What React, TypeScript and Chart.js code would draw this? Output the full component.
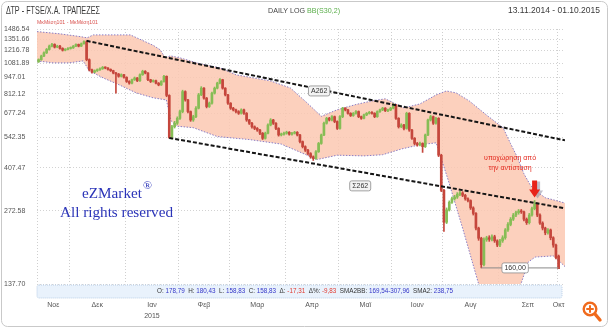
import React, { useEffect, useRef } from "react";
import { Chart, registerables } from "chart.js";

Chart.register(...registerables);

// ---------- data ----------
const monthLabels: (string | string[])[] = ["Νοε", "Δεκ", ["Ιαν", "2015"], "Φεβ", "Μαρ", "Απρ", "Μαϊ", "Ιουν", "Αυγ", "Σεπ", "Οκτ"];
const monthTradingDays = [12, 21, 20, 19, 21, 20, 20, 19, 21, 22, 1];

const yTickValues = [137.7, 272.58, 407.47, 542.35, 677.24, 812.12, 947.01, 1081.89, 1216.78, 1351.66, 1486.54];

const firstOpen = 1095;
const lastOpen = 178.79;

const closes = [
  // Nov
  1117, 1155, 1190, 1228, 1267, 1287, 1255, 1267, 1240, 1220, 1228, 1240,
  // Dec
  1247, 1267, 1287, 1267, 1295, 1320, 1117, 1016, 994, 1008, 1016, 1026, 1040, 1033, 1020, 1008, 986, 976, 956, 970, 947,
  // Jan
  911, 897, 926, 941, 917, 970, 1002, 986, 926, 911, 917, 897, 882, 911, 956, 800, 540, 597, 617, 646,
  // Feb
  688, 829, 767, 688, 636, 656, 710, 804, 856, 780, 721, 744, 817, 856, 897, 926, 856, 804, 744,
  // Mar
  710, 699, 688, 677, 699, 677, 636, 617, 597, 588, 579, 562, 536, 562, 607, 636, 617, 588, 553, 557, 562,
  // Apr
  567, 557, 562, 567, 553, 520, 496, 480, 465, 451, 444, 473, 511, 553, 617, 646, 636, 656, 627, 588,
  // May
  656, 710, 699, 677, 663, 677, 688, 656, 646, 667, 677, 683, 677, 656, 688, 699, 710, 693, 699, 710,
  // Jun
  732, 646, 597, 607, 588, 677, 579, 536, 511, 504, 511, 496, 553, 636, 656, 617, 646, 458, 330,
  // Aug
  245, 275, 295, 305, 310, 318, 322, 315, 305, 300, 280, 266, 232, 211, 165, 208, 212, 209, 214, 206, 198,
  // Sep
  206, 212, 228, 240, 252, 262, 268, 272, 270, 252, 244, 262, 278, 290, 262, 243, 232, 222, 228, 212, 198, 176.14,
  // Oct
  158.83,
];

const highs = [
  1125, 1165, 1200, 1240, 1280, 1300, 1295, 1278, 1275, 1248, 1238, 1250,
  1258, 1275, 1295, 1292, 1305, 1330, 1332, 1125, 1022, 1015, 1025, 1035, 1048, 1045, 1038, 1025, 1012, 992, 982, 978, 975,
  952, 918, 932, 950, 946, 978, 1012, 1008, 990, 930, 925, 922, 902, 918, 965, 960, 805, 605, 628, 655,
  698, 840, 835, 772, 692, 665, 720, 815, 868, 860, 785, 752, 826, 865, 905, 935, 930, 860, 808,
  748, 716, 705, 694, 706, 704, 682, 640, 622, 602, 593, 583, 566, 568, 614, 644, 640, 621, 592, 563, 568,
  573, 571, 567, 572, 571, 556, 523, 500, 484, 469, 455, 478, 516, 558, 624, 652, 652, 662, 660, 631,
  662, 716, 714, 703, 681, 682, 694, 692, 660, 672, 682, 689, 688, 681, 693, 705, 716, 714, 705, 716,
  740, 736, 650, 614, 611, 684, 681, 583, 540, 516, 517, 514, 558, 642, 664, 660, 652, 650, 462,
  333, 280, 299, 310, 315, 323, 327, 326, 318, 308, 302, 283, 268, 234, 213, 212, 215, 216, 218, 217, 208,
  209, 216, 231, 244, 256, 266, 272, 276, 276, 272, 255, 266, 282, 300, 293, 265, 246, 234, 231, 230, 214, 200,
  180.43,
];

const lows = [
  1088, 1110, 1148, 1182, 1220, 1258, 1245, 1248, 1232, 1210, 1212, 1222,
  1232, 1240, 1260, 1258, 1262, 1290, 1105, 1005, 985, 988, 1000, 1010, 1020, 1025, 1012, 1000, 978, 817, 948, 950, 940,
  903, 888, 890, 920, 910, 912, 965, 978, 918, 902, 905, 890, 875, 878, 905, 790, 536, 532, 590, 610,
  640, 680, 758, 680, 628, 628, 650, 705, 798, 772, 712, 715, 738, 810, 850, 890, 848, 796, 736,
  702, 692, 680, 670, 672, 670, 628, 610, 590, 581, 572, 555, 530, 532, 558, 602, 610, 581, 547, 548, 552,
  557, 552, 552, 558, 548, 514, 490, 474, 459, 445, 436, 440, 470, 507, 549, 612, 630, 630, 620, 582,
  584, 650, 692, 671, 657, 658, 672, 650, 640, 642, 662, 672, 671, 650, 652, 683, 694, 688, 688, 694,
  705, 640, 590, 592, 580, 584, 572, 530, 505, 498, 499, 470, 492, 549, 630, 610, 612, 452, 326,
  225, 242, 272, 292, 301, 306, 314, 311, 301, 296, 276, 262, 228, 207, 160, 163, 205, 205, 206, 203, 195,
  195, 203, 209, 225, 237, 249, 258, 264, 266, 248, 240, 241, 259, 275, 258, 240, 228, 218, 219, 208, 194, 174,
  158.83,
];

// Bollinger band edges: [trading-day index, price]
const bandUpper: [number, number][] = [
  [-0.6, 1451], [8, 1421], [15.6, 1385], [18.2, 1369], [20.5, 1407], [34.4, 1407], [43, 1276], [45.6, 1224],
  [47.5, 1135], [49.4, 1157], [53.1, 1135], [60.6, 1074], [68.1, 1034], [74.1, 969], [80.5, 942], [86.9, 916],
  [94.4, 858], [100.7, 746], [106, 658], [112, 700], [119, 735], [125, 760], [130, 775], [137, 712], [143, 739],
  [149.1, 804], [152.9, 834], [156.6, 819], [161.5, 760], [167.9, 667], [174.2, 591], [177, 510], [179.5, 450],
  [182, 385], [184.5, 345], [187, 325], [190, 308], [194, 300], [197.4, 293],
];
const bandLower: [number, number][] = [
  [-0.6, 1104], [5.5, 1084], [11.5, 1084], [16.7, 1104], [19, 1006], [24.2, 942], [30.2, 883], [36.6, 819],
  [43, 782], [47.9, 767], [49.7, 630], [52, 600], [58, 592], [67, 545], [79, 530], [91, 508], [100.7, 458],
  [104.5, 440], [112, 458], [122, 455], [129, 460], [136, 485], [143, 505], [149.1, 514], [153.6, 363],
  [159.2, 228], [164.9, 139], [169.4, 119], [175, 119], [181, 139], [183.6, 169], [186.2, 177], [193, 179],
  [195.6, 169], [197.4, 162],
];

// trend lines (resistance A262, support Σ262)
const trendUpper: [number, number][] = [[18, 1331], [197.4, 526]];
const trendLower: [number, number][] = [[49, 538], [197.4, 279]];
const trendLabels = [
  { text: "A262", x: 105.2, y: 834 },
  { text: "Σ262", x: 120.6, y: 344 },
];
const supportLevel = 160;
const supportFrom = 166;
const supportTo = 195;
const supportLabel = { text: "160,00", x: 178.7 };

const arrowIndex = 186;
const noteLines = ["υποχώρηση από", "την αντίσταση"];
const notePos = { x: 176.8, y: [446, 407] };

const titleText = "ΔΤΡ - FTSE/Χ.Α. ΤΡΑΠΕΖΕΣ";
const subtitleText = "ΜκΜέση101 - ΜκΜέση101";
const periodText = "13.11.2014 - 01.10.2015";

const BLUE = "#3436c8";
const RED = "#e03a30";
const statsItems = [
  { label: "O:", value: "178,79", color: BLUE },
  { label: "H:", value: "180,43", color: BLUE },
  { label: "L:", value: "158,83", color: BLUE },
  { label: "C:", value: "158,83", color: BLUE },
  { label: "Δ:", value: "-17,31", color: RED },
  { label: "Δ%:", value: "-9,83", color: RED },
  { label: "SMA2BB:", value: "169,54-307,96", color: BLUE },
  { label: "SMA2:", value: "238,75", color: BLUE },
];

// ---------- helpers ----------
const SANS = "'Liberation Sans', Arial, sans-serif";
const NARROW = "'Liberation Sans Narrow', 'Liberation Sans', Arial, sans-serif";
const SERIF = "'Liberation Serif', 'Times New Roman', serif";

function fitText(ctx: CanvasRenderingContext2D, text: string, x: number, y: number, width: number) {
  const w = ctx.measureText(text).width || 1;
  ctx.save();
  ctx.translate(x, y);
  ctx.scale(width / w, 1);
  ctx.textAlign = "left";
  ctx.fillText(text, 0, 0);
  ctx.restore();
}

function fitSegments(ctx: CanvasRenderingContext2D, segs: { t: string; c: string }[], x: number, y: number, width: number) {
  let total = 0;
  segs.forEach((s) => (total += ctx.measureText(s.t).width));
  const k = width / total;
  ctx.save();
  ctx.translate(x, y);
  ctx.scale(k, 1);
  ctx.textAlign = "left";
  let cx = 0;
  segs.forEach((s) => {
    ctx.fillStyle = s.c;
    ctx.fillText(s.t, cx, 0);
    cx += ctx.measureText(s.t).width;
  });
  ctx.restore();
}

function boxLabel(ctx: CanvasRenderingContext2D, text: string, cx: number, cy: number, fill: string) {
  ctx.save();
  ctx.font = `7px ${SANS}`;
  const w = ctx.measureText(text).width + 5;
  const h = 10;
  ctx.beginPath();
  (ctx as any).roundRect(cx - w / 2, cy - h / 2, w, h, 2);
  ctx.fillStyle = fill;
  ctx.fill();
  ctx.strokeStyle = "#8c8c8c";
  ctx.lineWidth = 0.8;
  ctx.stroke();
  ctx.fillStyle = "#333";
  ctx.textAlign = "center";
  ctx.textBaseline = "middle";
  ctx.fillText(text, cx, cy + 0.5);
  ctx.restore();
}

function arrowPath(ctx: CanvasRenderingContext2D, cx: number, tipY: number) {
  const h = 17, headH = 8, shaftW = 5, headW = 11;
  ctx.beginPath();
  ctx.moveTo(cx - shaftW / 2, tipY - h);
  ctx.lineTo(cx + shaftW / 2, tipY - h);
  ctx.lineTo(cx + shaftW / 2, tipY - headH);
  ctx.lineTo(cx + headW / 2, tipY - headH);
  ctx.lineTo(cx, tipY);
  ctx.lineTo(cx - headW / 2, tipY - headH);
  ctx.lineTo(cx - shaftW / 2, tipY - headH);
  ctx.closePath();
}

// ---------- derived chart structures ----------
const opens = closes.map((c, i) => (i === 0 ? firstOpen : i === closes.length - 1 ? lastOpen : closes[i - 1]));

const boundaries: number[] = [];
{
  let acc = -0.5;
  monthTradingDays.forEach((d) => {
    boundaries.push(acc);
    acc += d;
  });
}
const mids = monthTradingDays.map((d, k) => boundaries[k] + d / 2);

const GREEN = "#86bd55";
const DOWN = "#c5463c";

const overlayPlugin = {
  id: "overlay",
  afterDatasetsDraw(chart: any) {
    const { ctx } = chart;
    const xs = chart.scales.x;
    const ys = chart.scales.y;
    // trend line labels
    trendLabels.forEach((l) => boxLabel(ctx, l.text, xs.getPixelForValue(l.x), ys.getPixelForValue(l.y), "#f3f3f3"));
    boxLabel(ctx, supportLabel.text, xs.getPixelForValue(supportLabel.x), ys.getPixelForValue(supportLevel), "#ffffff");

    // arrow
    const ax = xs.getPixelForValue(arrowIndex);
    const tipY = ys.getPixelForValue(highs[arrowIndex]) - 3;
    ctx.save();
    ctx.fillStyle = "rgba(140,140,160,0.55)";
    arrowPath(ctx, ax + 3, tipY + 1);
    ctx.fill();
    ctx.fillStyle = "#e8231a";
    arrowPath(ctx, ax, tipY);
    ctx.fill();

    // note text
    ctx.fillStyle = "#e2261c";
    ctx.font = `7px ${SANS}`;
    ctx.textAlign = "center";
    ctx.textBaseline = "middle";
    noteLines.forEach((t, k) => ctx.fillText(t, xs.getPixelForValue(notePos.x), ys.getPixelForValue(notePos.y[k])));

    // watermark
    ctx.fillStyle = "#2b34b8";
    ctx.font = `15px ${SERIF}`;
    ctx.textBaseline = "middle";
    fitText(ctx, "eZMarket", 82, 194, 60);
    ctx.font = `11px ${SERIF}`;
    fitText(ctx, "®", 143, 186, 9);
    ctx.font = `15px ${SERIF}`;
    fitText(ctx, "All rights reserved", 60, 213, 113);
    ctx.restore();
  },
  afterDraw(chart: any) {
    const { ctx } = chart;
    const xs = chart.scales.x;
    ctx.save();
    ctx.textBaseline = "middle";

    // month labels, centred in each month's span on the x scale
    ctx.font = `7px ${SANS}`;
    ctx.fillStyle = "#555";
    ctx.textAlign = "center";
    mids.forEach((m, k) => {
      const lab = monthLabels[k];
      const lines = Array.isArray(lab) ? lab : [lab];
      lines.forEach((t, j) => ctx.fillText(t, xs.getPixelForValue(m), 305.5 + j * 10.5));
    });

    // header
    ctx.textAlign = "left";
    ctx.font = `10px ${NARROW}`;
    ctx.fillStyle = "#3a3a3a";
    fitText(ctx, titleText, 6, 11, 94);
    ctx.font = `6px ${SANS}`;
    ctx.fillStyle = "#d9534f";
    fitText(ctx, subtitleText, 37, 22, 61);
    ctx.font = `8px ${NARROW}`;
    fitSegments(ctx, [{ t: "DAILY LOG ", c: "#444" }, { t: "BB(S30,2)", c: "#5aae4a" }], 268, 11, 72);
    ctx.fillStyle = "#3a3a3a";
    ctx.font = `8.5px ${NARROW}`;
    fitText(ctx, periodText, 508, 11, 92);

    // stats box
    ctx.beginPath();
    (ctx as any).roundRect(37, 285, 525, 13, 2);
    ctx.fillStyle = "#e9f2fc";
    ctx.fill();
    ctx.setLineDash([1, 1]);
    ctx.strokeStyle = "#b9cde6";
    ctx.lineWidth = 1;
    ctx.stroke();
    ctx.setLineDash([]);
    ctx.font = `6.5px ${NARROW}`;
    const segs: { t: string; c: string }[] = [];
    statsItems.forEach((s, k) => {
      segs.push({ t: (k ? "  " : "") + s.label + " ", c: "#333" });
      segs.push({ t: s.value, c: s.color });
    });
    fitSegments(ctx, segs, 157, 291.5, 296);

    // outer frame
    ctx.beginPath();
    (ctx as any).roundRect(1.5, 1.5, 606, 325, 6);
    ctx.strokeStyle = "#c9c9c9";
    ctx.lineWidth = 1;
    ctx.stroke();

    // magnifier icon
    ctx.strokeStyle = "#f06a1c";
    ctx.lineCap = "round";
    ctx.lineWidth = 2.4;
    ctx.beginPath();
    ctx.arc(590, 309, 6.3, 0, Math.PI * 2);
    ctx.stroke();
    ctx.lineWidth = 2;
    ctx.beginPath();
    ctx.moveTo(587, 309);
    ctx.lineTo(593, 309);
    ctx.moveTo(590, 306);
    ctx.lineTo(590, 312);
    ctx.stroke();
    ctx.lineWidth = 3.4;
    ctx.beginPath();
    ctx.moveTo(595, 314);
    ctx.lineTo(600, 320);
    ctx.stroke();
    ctx.restore();
  },
};

export default function App() {
  const ref = useRef<HTMLCanvasElement>(null);
  useEffect(() => {
    document.body.style.margin = "0";
    const canvas = ref.current!;
    const pts = (arr: [number, number][]) => arr.map(([x, y]) => ({ x, y }));
    const upColor = (i: number) => (closes[i] >= opens[i] ? GREEN : DOWN);

    const chart = new Chart(canvas, {
      type: "bar",
      data: {
        datasets: [
          {
            type: "line",
            data: pts(bandUpper),
            borderColor: "#8a7cc4",
            borderWidth: 1,
            borderDash: [1.5, 1.5],
            pointRadius: 0,
            fill: "+1",
            backgroundColor: "rgba(251,200,178,0.85)",
            order: 11,
          } as any,
          {
            type: "line",
            data: pts(bandLower),
            borderColor: "#8a7cc4",
            borderWidth: 1,
            borderDash: [1.5, 1.5],
            pointRadius: 0,
            fill: false,
            order: 10,
          } as any,
          {
            type: "bar",
            data: closes.map((_, i) => ({ x: i, y: [lows[i], highs[i]] })),
            backgroundColor: closes.map((_, i) => upColor(i)),
            barThickness: 1,
            grouped: false,
            order: 4,
          } as any,
          {
            type: "bar",
            data: closes.map((c, i) => ({ x: i, y: [opens[i], c] })),
            backgroundColor: closes.map((_, i) => upColor(i)),
            barThickness: 2,
            minBarLength: 1,
            grouped: false,
            order: 3,
          } as any,
          {
            type: "line",
            data: pts(trendUpper),
            borderColor: "#151515",
            borderWidth: 2,
            borderDash: [4, 2],
            pointRadius: 0,
            fill: false,
            order: 1,
          } as any,
          {
            type: "line",
            data: pts(trendLower),
            borderColor: "#151515",
            borderWidth: 2,
            borderDash: [4, 2],
            pointRadius: 0,
            fill: false,
            order: 1,
          } as any,
          {
            type: "line",
            data: [
              { x: supportFrom, y: supportLevel },
              { x: supportTo, y: supportLevel },
            ],
            borderColor: "#8a8a8a",
            borderWidth: 1,
            pointRadius: 0,
            fill: false,
            order: 2,
          } as any,
        ],
      },
      options: {
        animation: false,
        responsive: false,
        events: [],
        layout: { padding: { left: 4, top: 29, right: 45, bottom: 0 } },
        plugins: { legend: { display: false }, tooltip: { enabled: false } },
        scales: {
          x: {
            type: "linear",
            offset: false,
            min: -0.6,
            max: 197.4,
            afterBuildTicks: (s: any) => {
              s.ticks = boundaries.map((v) => ({ value: v }));
            },
            afterFit: (s: any) => {
              s.height = 46;
            },
            grid: { color: "#cfcfcf", drawTicks: false, lineWidth: 1, offset: false },
            border: { display: false, dash: [1, 2] },
            ticks: { display: false },
          } as any,
          y: {
            type: "logarithmic",
            position: "left",
            min: yTickValues[0],
            max: yTickValues[yTickValues.length - 1],
            afterBuildTicks: (s: any) => {
              s.ticks = yTickValues.map((v) => ({ value: v }));
            },
            afterFit: (s: any) => {
              s.width = 33;
            },
            grid: { color: "#d2d2d2", drawTicks: false, lineWidth: 1 },
            border: { display: false, dash: [1, 2] },
            ticks: {
              autoSkip: false,
              crossAlign: "far",
              color: "#555",
              font: { size: 7, family: SANS },
              callback: (v: any) => Number(v).toFixed(2),
            },
          } as any,
        },
      } as any,
      plugins: [overlayPlugin],
    });
    return () => chart.destroy();
  }, []);
  return (
    <div style={{ position: "relative", width: 610, height: 330, background: "#fff" }}>
      <style>{"body{margin:0}"}</style>
      <canvas ref={ref} width={610} height={330} />
    </div>
  );
}
